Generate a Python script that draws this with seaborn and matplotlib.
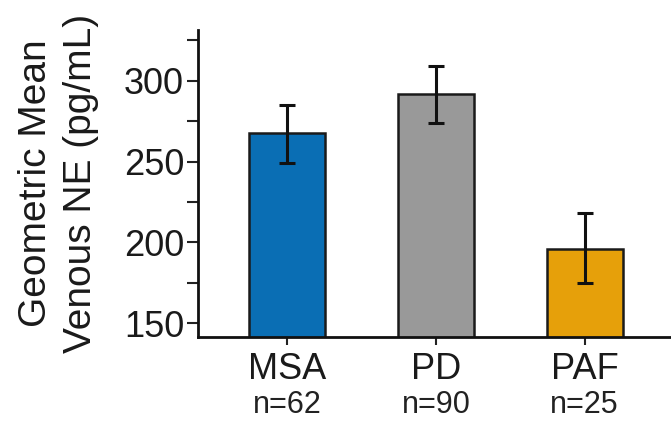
import matplotlib
matplotlib.use("Agg")
import matplotlib.pyplot as plt
import seaborn as sns
import pandas as pd
import numpy as np
from matplotlib.ticker import MultipleLocator
from matplotlib.transforms import blended_transform_factory

groups = ["MSA", "PD", "PAF"]
n_labels = ["n=62", "n=90", "n=25"]
means = [268, 292, 196]
err_low = [249, 274, 175]
err_high = [285, 309, 218]
colors = ["#0a6eb4", "#999999", "#e6a00a"]
yticks = [150, 200, 250, 300]

sns.set_theme(style="ticks")
plt.rcParams['font.family'] = ['Liberation Sans', 'DejaVu Sans']

df = pd.DataFrame({"group": groups, "mean": means})

fig = plt.figure(figsize=(6.71, 4.22), dpi=100)
ax = fig.add_axes([198/671, (422-337)/422, 1 - 198/671, (337-30)/422])

sns.barplot(data=df, x="group", y="mean", hue="group", palette=colors,
            order=groups, hue_order=groups, width=0.51, edgecolor="#1a1a1a",
            linewidth=1.8, saturation=1, legend=False, ax=ax, errorbar=None)

m = np.array(means)
yerr = np.array([m - np.array(err_low), np.array(err_high) - m])
ax.errorbar(range(len(groups)), means, yerr=yerr, fmt="none", ecolor="#111111",
            elinewidth=2.2, capsize=6, capthick=2.2, zorder=5)

ax.set_ylim(141.4, 331.5)
ax.set_xlim(-0.6, 2.58)
ax.set_yticks(yticks)
ax.yaxis.set_minor_locator(MultipleLocator(25))
ax.tick_params(axis="y", which="major", labelsize=26, length=8, width=1.5,
               color="#222222", labelcolor="#1a1a1a", pad=2)
ax.tick_params(axis="y", which="minor", length=8, width=1.5, color="#222222")
ax.tick_params(axis="x", labelsize=26, length=6, width=1.5, color="#222222",
               labelcolor="#1a1a1a", pad=5)
ax.set_xlabel("")
ax.set_ylabel("Geometric Mean\nVenous NE (pg/mL)", fontsize=28, labelpad=18,
              linespacing=1.3, color="#1a1a1a")

for s in ["top", "right"]:
    ax.spines[s].set_visible(False)
for s in ["left", "bottom"]:
    ax.spines[s].set_linewidth(2)
    ax.spines[s].set_color("#111111")

trans = blended_transform_factory(ax.transData, fig.transFigure)
for i, lab in enumerate(n_labels):
    ax.text(i, (422 - 405) / 422, lab, transform=trans, ha="center", va="center",
            fontsize=22, color="#222222")

fig.savefig("out.png", dpi=100)
